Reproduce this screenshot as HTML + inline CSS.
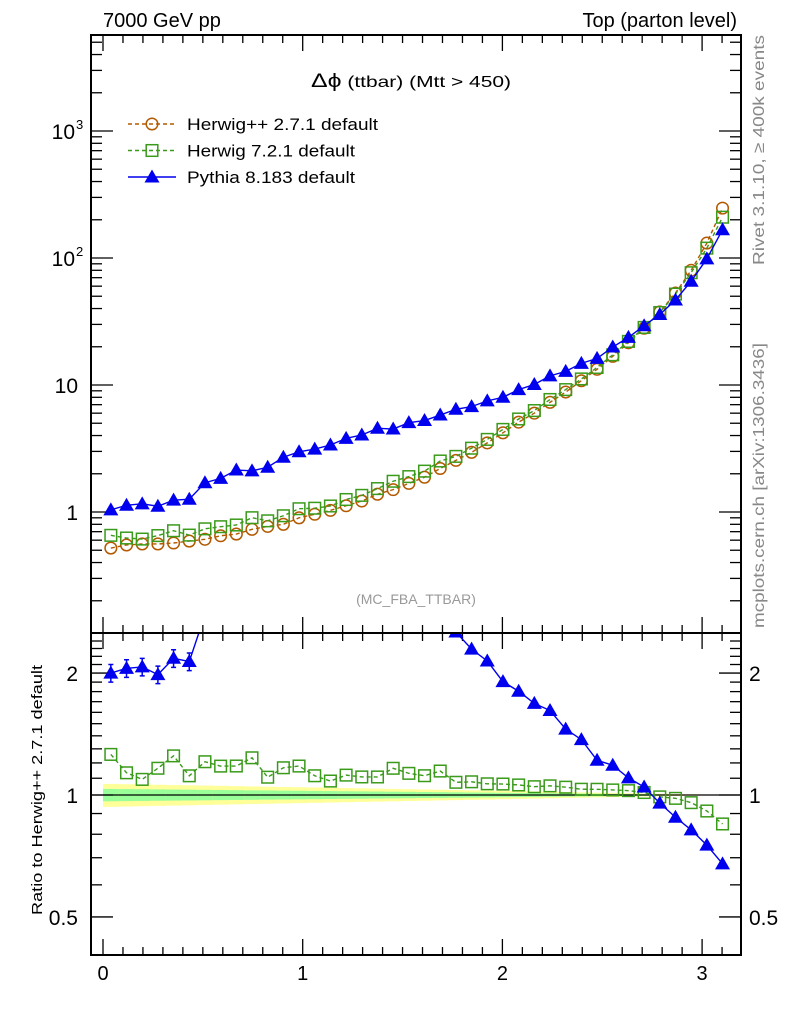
<!DOCTYPE html>
<html><head><meta charset="utf-8"><style>
body{margin:0;background:#fff;}
svg{display:block;font-family:"Liberation Sans",sans-serif;}
</style></head><body>
<svg id="c" width="786" height="1024" viewBox="0 0 786 1024">
<defs>
<clipPath id="cm"><rect x="91" y="35" width="650" height="598"/></clipPath>
<clipPath id="cr"><rect x="91" y="633" width="650" height="322"/></clipPath>
</defs>
<text x="103" y="27" font-size="20">7000 GeV pp</text>
<text x="737" y="27" font-size="20" text-anchor="end">Top (parton level)</text>
<text x="311" y="87" font-size="16" textLength="200" lengthAdjust="spacingAndGlyphs"><tspan font-size="19">Δϕ</tspan> (ttbar) (Mtt &gt; 450)</text>
<text x="416" y="604" font-size="14" fill="#999" text-anchor="middle">(MC_FBA_TTBAR)</text>
<text transform="translate(764,265) rotate(-90)" font-size="16" fill="#888" textLength="230" lengthAdjust="spacingAndGlyphs">Rivet 3.1.10, ≥ 400k events</text>
<text transform="translate(764,628) rotate(-90)" font-size="16" fill="#888" textLength="285" lengthAdjust="spacingAndGlyphs">mcplots.cern.ch [arXiv:1306.3436]</text>
<text transform="translate(42,915) rotate(-90)" font-size="15" textLength="250" lengthAdjust="spacingAndGlyphs">Ratio to Herwig++ 2.7.1 default</text>
<g id="band"></g>
<g id="axes"></g>
<g id="series"></g>
<g id="legend"></g>
<rect x="91" y="35" width="650" height="598" fill="none" stroke="#000" stroke-width="2"/>
<rect x="91" y="633" width="650" height="322" fill="none" stroke="#000" stroke-width="2"/>
</svg>
<script>
const hpp=[0.52,0.55,0.56,0.56,0.57,0.59,0.61,0.65,0.67,0.73,0.77,0.80,0.90,0.96,1.03,1.12,1.22,1.38,1.5,1.68,1.88,2.2,2.55,2.95,3.5,4.2,5.1,6.0,7.3,8.8,10.8,13.3,16.8,21.5,28,37.6,53,80,131,247];
const h7=[0.655,0.624,0.612,0.652,0.712,0.658,0.737,0.766,0.79,0.902,0.852,0.934,1.061,1.071,1.115,1.254,1.352,1.529,1.746,1.9,2.098,2.521,2.741,3.18,3.73,4.47,5.40,6.29,7.69,9.2,11.16,13.74,17.29,22.04,28.4,37.2,52,76.6,119.6,209.5];
const py=[1.04,1.13,1.16,1.11,1.24,1.26,1.70,1.84,2.14,2.11,2.25,2.70,2.98,3.13,3.37,3.8,4.04,4.56,4.5,5.05,5.25,5.8,6.44,6.76,7.5,8.0,9.2,10.1,11.8,12.8,14.8,16.2,19.9,23.7,29.3,35.9,46.7,65.6,98.5,167];
const pyRelErr=[0.05,0.05,0.05,0.05,0.05,0.05];
const nBins=40, xMax=Math.PI;
const xTicks=[0,1,2,3];
const yTicks=[[1000,"10","3"],[100,"10","2"],[10,"10",""],[1,"1",""]];
const rTicks=[[2,"2"],[1,"1"],[0.5,"0.5"]];
const NS="http://www.w3.org/2000/svg";
const X=v=>103+v*199.7;
const Y=v=>512-Math.log10(v)*127;
const R=v=>795-Math.log10(v)*405;
const svg=document.getElementById('c');
function mk(t,a,p){const e=document.createElementNS(NS,t);for(const k in a)e.setAttribute(k,a[k]);(p||svg).appendChild(e);return e;}
const ax=document.getElementById('axes');
for(let v=0;v<=3.2;v+=0.1){const xv=X(v);if(xv>741)break;const maj=Math.abs(v-Math.round(v))<1e-6;const L=maj?16:8;
 for(const [t,b] of [[35,633],[633,955]]){mk('line',{x1:xv,y1:b,x2:xv,y2:b-L,stroke:'#000','stroke-width':1.3},ax);mk('line',{x1:xv,y1:t,x2:xv,y2:t+L,stroke:'#000','stroke-width':1.3},ax);}}
xTicks.forEach(v=>{const t=mk('text',{x:X(v),y:980,'font-size':20,'text-anchor':'middle'},ax);t.textContent=v;

});
for(let d=-1;d<=3;d++)for(let m=1;m<=9;m++){const v=m*Math.pow(10,d);const yv=Y(v);if(yv<35||yv>633)continue;const L=m==1?22:11;
 mk('line',{x1:91,y1:yv,x2:91+L,y2:yv,stroke:'#000','stroke-width':1.3},ax);mk('line',{x1:741,y1:yv,x2:741-L,y2:yv,stroke:'#000','stroke-width':1.3},ax);}
yTicks.forEach(([v,b,e])=>{const t=mk('text',{x:e?75:78,y:Y(v)+8,'font-size':21,'text-anchor':'end'},ax);t.textContent=b;


if(e){const s=mk('text',{x:76,y:Y(v)-2,'font-size':13},ax);s.textContent=e;}});
for(let v=0.4;v<=2.5;v+=0.1){const yv=R(v);if(yv<633||yv>955)continue;const maj=[0.5,1,2].some(q=>Math.abs(q-v)<1e-6);const L=maj?22:11;
 mk('line',{x1:91,y1:yv,x2:91+L,y2:yv,stroke:'#000','stroke-width':1.3},ax);mk('line',{x1:741,y1:yv,x2:741-L,y2:yv,stroke:'#000','stroke-width':1.3},ax);}
rTicks.forEach(([v,l])=>{let t=mk('text',{x:78,y:R(v)+8,'font-size':21,'text-anchor':'end'},ax);t.textContent=l;


t=mk('text',{x:749,y:R(v)+8,'font-size':21},ax);t.textContent=l;

});
const bw=xMax/nBins;const bg=document.getElementById('band');
for(let i=0;i<nBins;i++){const f=1-i/(nBins*0.98);const ey=0.065*Math.max(f,0.03),eg=0.035*Math.max(f,0.03);
 mk('rect',{x:X(i*bw),y:R(1+ey),width:X((i+1)*bw)-X(i*bw)+0.5,height:R(1-ey)-R(1+ey),fill:'#ffff99'},bg);
 mk('rect',{x:X(i*bw),y:R(1+eg),width:X((i+1)*bw)-X(i*bw)+0.5,height:R(1-eg)-R(1+eg),fill:'#99ff99'},bg);}
mk('line',{x1:91,y1:R(1),x2:741,y2:R(1),stroke:'#000','stroke-width':1.3},bg);
const cx=i=>X((i+0.5)*bw);
function marker(g,type,x,y,col){
 if(type=='c')mk('circle',{cx:x,cy:y,r:5.8,fill:'none',stroke:col,'stroke-width':1.5},g);
 else if(type=='s')mk('rect',{x:x-5.8,y:y-5.8,width:11.6,height:11.6,fill:'none',stroke:col,'stroke-width':1.5},g);
 else mk('polygon',{points:`${x},${y-7.5} ${x-7.5},${y+5.5} ${x+7.5},${y+5.5}`,fill:col},g);}
const sg=document.getElementById('series');
const defs=[[hpp,'c','#b35a00','4,3','herwigpp'],[h7,'s','#3a9a1a','4,3','herwig7'],[py,'t','#0000ee','','pythia8']];
defs.forEach(([d,t,col,dash,name])=>{
 const gm=mk('g',{'clip-path':'url(#cm)'},sg);
 
 
 mk('polyline',{points:d.map((v,i)=>cx(i)+','+Y(v)).join(' '),fill:'none',stroke:col,'stroke-width':1.4,'stroke-dasharray':dash},gm);
 d.forEach((v,i)=>marker(gm,t,cx(i),Y(v),col));
 const gr=mk('g',{'clip-path':'url(#cr)'},sg);
 
 
 if(name=='herwigpp')return;
 const r=d.map((v,i)=>v/hpp[i]);
 mk('polyline',{points:r.map((v,i)=>cx(i)+','+R(v)).join(' '),fill:'none',stroke:col,'stroke-width':1.4,'stroke-dasharray':dash},gr);
 if(name=='pythia8')pyRelErr.forEach((e,i)=>{const x=cx(i);mk('path',{d:`M${x},${R(r[i]*(1+e))}V${R(r[i]*(1-e))}M${x-2.5},${R(r[i]*(1+e))}h5M${x-2.5},${R(r[i]*(1-e))}h5`,stroke:col,'stroke-width':1.5},gr);});
 r.forEach((v,i)=>marker(gr,t,cx(i),R(v),col));
});
const lg=document.getElementById('legend');
const labels=['Herwig++ 2.7.1 default','Herwig 7.2.1 default','Pythia 8.183 default'];
const lens=[191,168,168];
defs.forEach(([d,t,col,dash,name],k)=>{const y=124+k*26.5;
 const e=mk('g',{},lg);
 
 
 mk('line',{x1:128,y1:y,x2:176,y2:y,stroke:col,'stroke-width':1.4,'stroke-dasharray':dash},e);
 marker(e,t,152,y,col);
 const tx=mk('text',{x:187,y:y+6,'font-size':17,textLength:lens[k],lengthAdjust:'spacingAndGlyphs'},e);tx.textContent=labels[k];});
</script>
</body></html>
